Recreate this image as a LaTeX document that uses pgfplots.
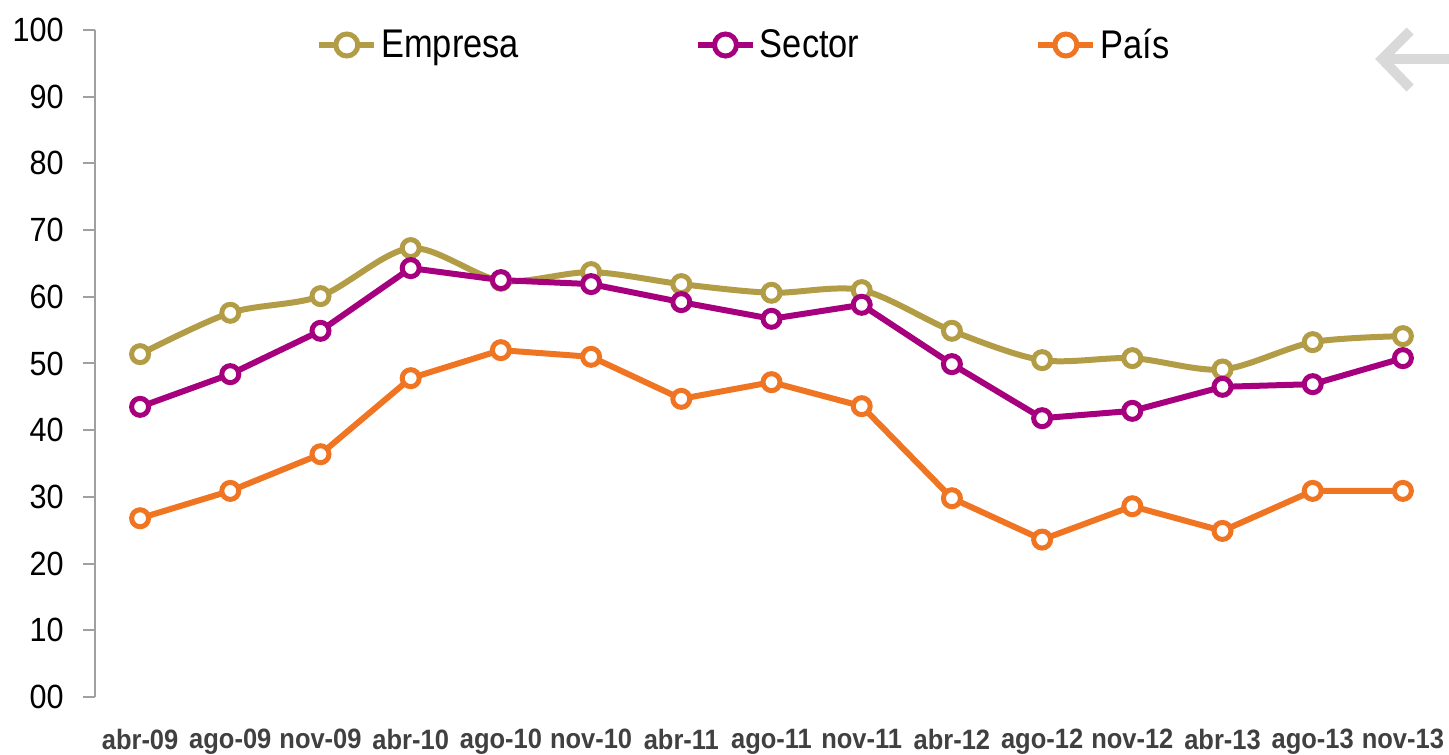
\documentclass[border=0pt]{standalone}
\usepackage{pgfplots}
\pgfplotsset{compat=1.18}
\usepackage{fontspec}
\setmainfont{Liberation Sans}
\newfontfamily\narrowfont[FakeStretch=0.86]{Liberation Sans}
\newfontfamily\tickfont[FakeStretch=0.91]{Liberation Sans}
\newfontfamily\labelfont[FakeStretch=0.91]{Liberation Sans}
\definecolor{cEmp}{HTML}{B29C45}
\definecolor{cSec}{HTML}{A6007F}
\definecolor{cPais}{HTML}{F07522}
\definecolor{axgray}{HTML}{A0A0A0}
\definecolor{xlab}{HTML}{404040}
\definecolor{arrowgray}{HTML}{D9D9D9}
\begin{document}
\begin{tikzpicture}
\begin{axis}[
  scale only axis, width=676.5pt, height=333.5pt,
  xmin=-0.5, xmax=14.5, ymin=0, ymax=100,
  clip=false,
  axis lines*=left,
  x axis line style={draw=none},
  y axis line style={axgray, line width=1pt},
  xtick={0,...,14},
  xticklabels={abr-09,ago-09,nov-09,abr-10,ago-10,nov-10,abr-11,ago-11,nov-11,abr-12,ago-12,nov-12,abr-13,ago-13,nov-13},
  xtick style={draw=none},
  ytick={0,10,...,100},
  yticklabels={00,10,20,30,40,50,60,70,80,90,100},
  ytick style={axgray, line width=1pt},
  tick align=outside,
  major tick length=6pt,
  yticklabel style={font=\fontsize{16.8}{18}\selectfont\tickfont, text=black, inner sep=0pt, anchor=east, xshift=-9.5pt},
  xticklabel style={font=\fontsize{14}{16}\selectfont\labelfont\bfseries, text=xlab, inner sep=0pt, anchor=north, yshift=-10pt},
  legend columns=3,
  legend style={draw=none, fill=none, at={(rel axis cs:0.1633,0.9775)}, anchor=west,
    font=\fontsize{20}{22}\selectfont\narrowfont, inner sep=0pt,
    nodes={inner sep=2pt},
    /tikz/every even column/.append style={column sep=86pt}},
  legend image code/.code={\draw[mark size=5.5pt, mark repeat=2, mark phase=2] plot coordinates {(0pt,0pt)(13.75pt,0pt)(27.5pt,0pt)};},
  every axis plot/.append style={line width=3pt, mark=*, mark size=4.25pt, mark options={fill=white, line width=2.5pt, solid}},
]
\addplot[cEmp, smooth, tension=0.5] coordinates {
 (0,51.4) (1,57.6) (2,60.1) (3,67.3) (4,62.4) (5,63.7) (6,61.9) (7,60.6)
 (8,61.0) (9,54.9) (10,50.5) (11,50.8) (12,49.1) (13,53.2) (14,54.1)};
\addlegendentry{Empresa}
\addplot[cSec] coordinates {
 (0,43.5) (1,48.4) (2,54.9) (3,64.3) (4,62.5) (5,61.9) (6,59.2) (7,56.7)
 (8,58.8) (9,49.9) (10,41.8) (11,42.9) (12,46.5) (13,46.9) (14,50.8)};
\addlegendentry{Sector}
\addplot[cPais] coordinates {
 (0,26.8) (1,30.9) (2,36.4) (3,47.8) (4,52.0) (5,51.0) (6,44.7) (7,47.2)
 (8,43.6) (9,29.8) (10,23.6) (11,28.6) (12,24.9) (13,30.9) (14,30.9)};
\addlegendentry{País}
\draw[arrowgray, line width=5pt] (axis cs:14.51,95.65) -- (axis cs:13.78,95.65);
\draw[arrowgray, line width=5pt, miter limit=10] (axis cs:14.08,99.85) -- (axis cs:13.77,95.65) -- (axis cs:14.08,91.3);
\coordinate (bbsw) at (rel axis cs:0,0);
\coordinate (bbne) at (rel axis cs:1,1);
\end{axis}
\pgfresetboundingbox
\path ([shift={(-47.5pt,-28.5pt)}]bbsw) rectangle ([shift={(0.5pt,15pt)}]bbne);
\end{tikzpicture}
\end{document}
